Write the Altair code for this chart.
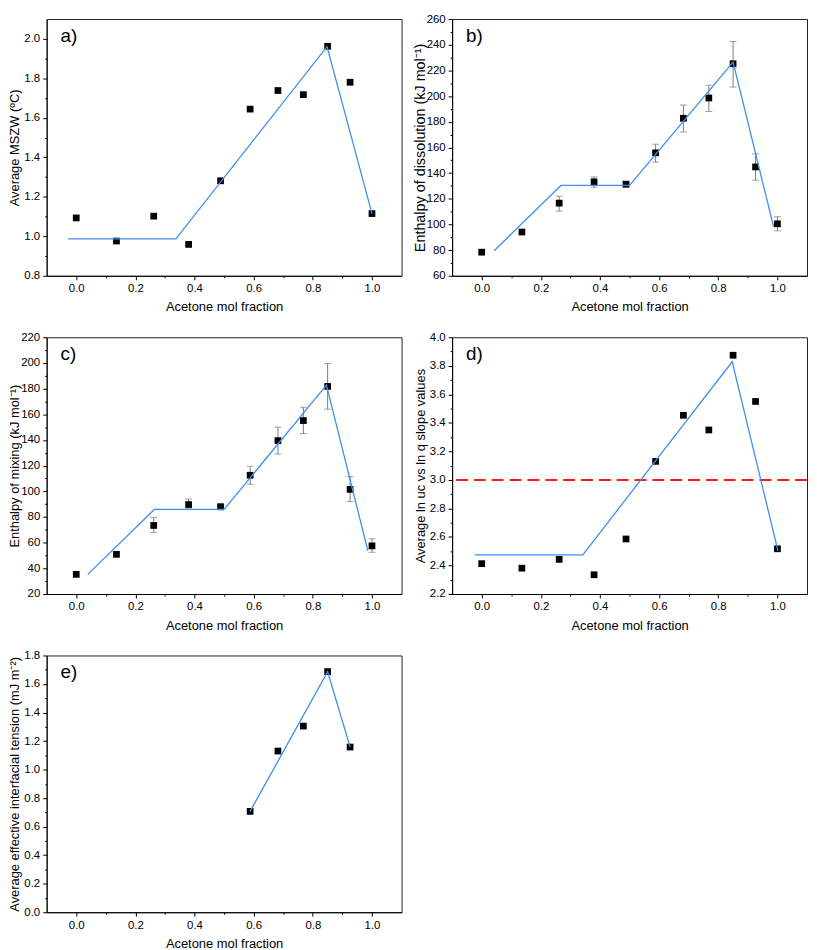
import altair as alt
import pandas as pd

# ---------------- data ----------------
x_frac = [0.0, 0.136, 0.262, 0.380, 0.488, 0.588, 0.682, 0.768, 0.850, 0.926, 1.0]

# a) Average MSZW
mszw = [1.093, 0.976, 1.102, 0.959, 1.281, 1.644, 1.738, 1.717, 1.962, 1.780, 1.115]
mszw_fit_x = [-0.028, 0.337, 0.848, 1.0]
mszw_fit_y = [0.987, 0.987, 1.960, 1.115]

# b) Enthalpy of dissolution
diss = [78.4, 94.1, 116.6, 133.2, 131.4, 155.8, 182.7, 198.5, 225.2, 144.8, 100.5]
diss_lo = [None, None, 110.4, 129.0, 129.0, 148.5, 172.0, 188.0, 207.0, 134.5, 95.0]
diss_hi = [None, None, 122.0, 137.0, 133.0, 162.5, 193.0, 208.5, 242.5, 155.0, 106.0]
diss_fit_x = [0.042, 0.268, 0.500, 0.850, 0.987]
diss_fit_y = [79.5, 130.4, 130.4, 226.5, 98.2]

# c) Enthalpy of mixing
mix = [35.3, 50.9, 73.4, 89.7, 87.9, 112.5, 139.5, 155.1, 181.7, 101.5, 57.5]
mix_lo = [None, None, 68.0, 87.0, 86.0, 105.5, 129.0, 145.0, 164.0, 92.0, 52.5]
mix_hi = [None, None, 79.5, 94.0, 90.5, 119.5, 150.0, 165.5, 199.5, 111.5, 63.0]
mix_fit_x = [0.039, 0.264, 0.500, 0.846, 0.986]
mix_fit_y = [35.3, 85.9, 85.9, 182.7, 53.7]

# d) slope values
slope = [2.413, 2.381, 2.443, 2.335, 2.586, 3.130, 3.453, 3.350, 3.874, 3.550, 2.517]
slope_fit_x = [-0.024, 0.342, 0.847, 1.002]
slope_fit_y = [2.475, 2.475, 3.828, 2.501]
slope_threshold = [3.0]

# e) interfacial tension
tension_x = [0.588, 0.682, 0.768, 0.850, 0.926]
tension = [0.707, 1.130, 1.305, 1.687, 1.158]
tension_fit_x = [0.588, 0.850, 0.926]
tension_fit_y = [0.707, 1.687, 1.158]

x_title = "Acetone mol fraction"
x_major = [0.0, 0.2, 0.4, 0.6, 0.8, 1.0]
x_minor = [0.1, 0.3, 0.5, 0.7, 0.9]

panel_labels = ["a)", "b)", "c)", "d)", "e)"]
y_titles = [
    "Average MSZW (ºC)",
    "Enthalpy of dissolution (kJ mol⁻¹)",
    "Enthalpy of mixing (kJ mol⁻¹)",
    "Average ln uc vs ln q slope values",
    "Average effective interfacial tension (mJ m⁻²)",
]

# ---------------- styling ----------------
FONT = "Liberation Sans"
BLUE = "#3f8fea"
W, H = 358, 259
XS = alt.Scale(domain=[-0.1, 1.1], nice=False, zero=False)


def steps(a, b, s):
    n = int(round((b - a) / s))
    return [round(a + i * s, 6) for i in range(n + 1)]


def x_major_axis():
    return alt.Axis(orient="bottom", values=x_major, format=".1f", title=x_title,
                    grid=False, tickSize=4, labelPadding=3, titlePadding=7,
                    domainColor="black", tickColor="black")


def x_minor_axis():
    return alt.Axis(orient="bottom", values=x_minor, labels=False, title=None,
                    grid=False, tickSize=2, domain=False, tickColor="black",
                    minExtent=0, maxExtent=0)


def y_major_axis(values, fmt, title, tsize):
    return alt.Axis(orient="left", values=values, format=fmt, title=title,
                    grid=False, tickSize=4, labelPadding=3, titlePadding=0,
                    titleFontSize=tsize, minExtent=25, maxExtent=25,
                    domainColor="black", tickColor="black")


def y_minor_axis(values):
    return alt.Axis(orient="left", values=values, labels=False, title=None,
                    grid=False, tickSize=2, domain=False, tickColor="black",
                    minExtent=0, maxExtent=0)


def panel(px, py, fx, fy, label, ytitle, ydom, ymaj, ymin, yfmt,
          lo=None, hi=None, thresh=None, tsize=13):
    ys = alt.Scale(domain=ydom, nice=False, zero=False)
    pts = pd.DataFrame({"x": px, "y": py})
    fit = pd.DataFrame({"x": fx, "y": fy})
    layers = []
    if lo is not None:
        err = pd.DataFrame({"x": px, "lo": lo, "hi": hi}).dropna()
        base = alt.Chart(err)
        layers.append(base.mark_rule(color="#7a7a7a", strokeWidth=1).encode(
            x=alt.X("x:Q", scale=XS, axis=None),
            y=alt.Y("lo:Q", scale=ys, axis=None), y2="hi:Q"))
        for col in ("lo", "hi"):
            layers.append(base.mark_tick(orient="horizontal", color="#7a7a7a",
                                         size=7, thickness=1).encode(
                x=alt.X("x:Q", scale=XS, axis=None),
                y=alt.Y(f"{col}:Q", scale=ys, axis=None)))
    layers.append(alt.Chart(pts).mark_square(size=46, color="black", opacity=1).encode(
        x=alt.X("x:Q", scale=XS, axis=x_major_axis()),
        y=alt.Y("y:Q", scale=ys, axis=y_major_axis(ymaj, yfmt, ytitle, tsize))))
    if thresh is not None:
        layers.append(alt.Chart(pd.DataFrame({"v": thresh})).mark_rule(
            color="#ff1a1a", strokeWidth=2, strokeDash=[12, 6]).encode(
            y=alt.Y("v:Q", scale=ys, axis=None)))
    layers.append(alt.Chart(fit).mark_line(color=BLUE, strokeWidth=1.3).encode(
        x=alt.X("x:Q", scale=XS, axis=x_minor_axis()),
        y=alt.Y("y:Q", scale=ys, axis=y_minor_axis(ymin))))
    layers.append(alt.Chart(pd.DataFrame({"t": [label]})).mark_text(
        align="left", baseline="alphabetic", fontSize=19, font=FONT, color="black").encode(
        x=alt.value(14), y=alt.value(23), text="t:N"))
    return alt.layer(*layers).resolve_axis(x="independent", y="independent").properties(
        width=W, height=H)


pa = panel(x_frac, mszw, mszw_fit_x, mszw_fit_y, panel_labels[0], y_titles[0],
           [0.8, 2.1], steps(0.8, 2.0, 0.2), steps(0.9, 1.9, 0.2), ".1f")
pb = panel(x_frac, diss, diss_fit_x, diss_fit_y, panel_labels[1], y_titles[1],
           [60, 260], steps(60, 260, 20), steps(70, 250, 20), "d",
           lo=diss_lo, hi=diss_hi, tsize=14.5)
pc = panel(x_frac, mix, mix_fit_x, mix_fit_y, panel_labels[2], y_titles[2],
           [20, 220], steps(20, 220, 20), steps(30, 210, 20), "d",
           lo=mix_lo, hi=mix_hi)
pd_ = panel(x_frac, slope, slope_fit_x, slope_fit_y, panel_labels[3], y_titles[3],
            [2.2, 4.0], steps(2.2, 4.0, 0.2), steps(2.3, 3.9, 0.2), ".1f",
            thresh=slope_threshold)
pe = panel(tension_x, tension, tension_fit_x, tension_fit_y, panel_labels[4], y_titles[4],
           [0.0, 1.8], steps(0.0, 1.8, 0.2), steps(0.1, 1.7, 0.2), ".1f")

chart = alt.concat(pa, pb, pc, pd_, pe, columns=2, bounds="flush",
                   spacing=alt.RowColnumber(row=62, column=51)).properties(
    padding=0, background="white"
).configure_view(stroke="#222222", strokeWidth=1).configure_axis(
    labelFont=FONT, labelFontSize=11.5, labelColor="black",
    titleFont=FONT, titleFontSize=13, titleFontWeight="normal", titleColor="black",
    domainWidth=1, tickWidth=1
)

chart.save("out.html", embed_options={"renderer": "svg", "actions": False})
